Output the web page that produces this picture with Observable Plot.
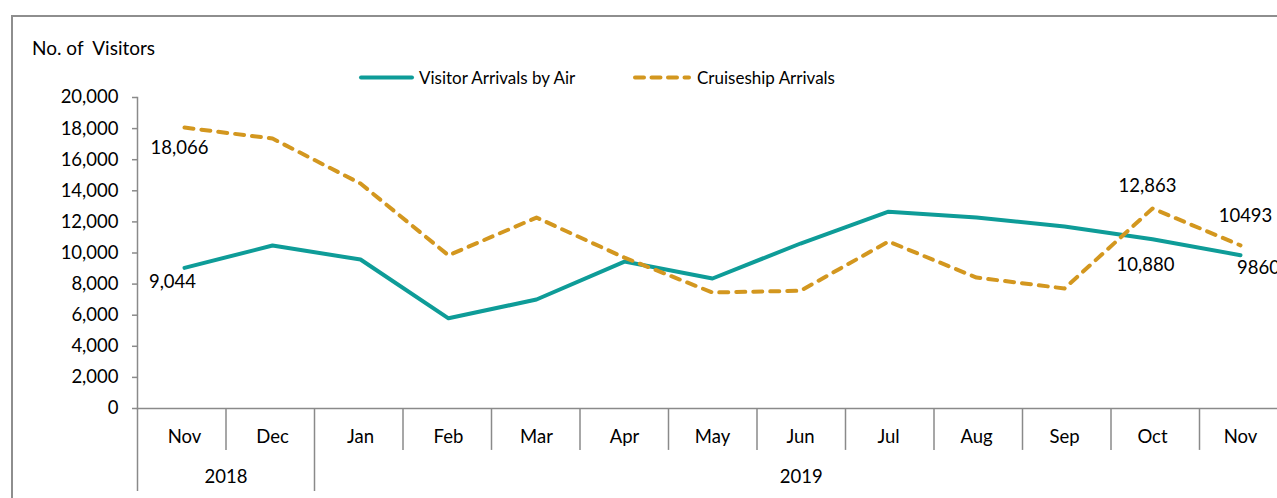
<!DOCTYPE html>
<html>
<head>
<meta charset="utf-8">
<script src="https://cdn.jsdelivr.net/npm/d3@7"></script>
<script src="https://cdn.jsdelivr.net/npm/@observablehq/plot@0.6"></script>
<style>
  html, body { margin: 0; padding: 0; background: #fff; }
  body { width: 1277px; height: 498px; overflow: hidden; position: relative; font-family: Lato, "Open Sans", sans-serif; }
  #frame { position: absolute; left: 11px; top: 15px; width: 1300px; height: 520px; border-left: 2px solid #8e8e8e; border-top: 2px solid #8e8e8e; }
  #ytitle { position: absolute; left: 32px; top: 36px; font-size: 19px; color: #000; white-space: pre; }
  #legend { position: absolute; left: 0; top: 0; }
  #chart { position: absolute; left: 0; top: 0; width: 1277px; height: 498px; }
  #chart svg { position: absolute; left: 0; top: 0; max-width: none !important; }
</style>
</head>
<body>
<div id="frame"></div>
<div id="chart"></div>
<div id="ytitle">No. of  Visitors</div>
<svg id="legend" width="1277" height="100">
  <line x1="361" x2="412" y1="77.5" y2="77.5" stroke="#0e9c98" stroke-width="4" stroke-linecap="round"/>
  <text x="419" y="83.5" font-size="17" font-family="Lato, 'Open Sans', sans-serif">Visitor Arrivals by Air</text>
  <line x1="635" x2="689" y1="77.5" y2="77.5" stroke="#d3971f" stroke-width="4" stroke-linecap="round" stroke-dasharray="9,7.5"/>
  <text x="697" y="83.5" font-size="17" font-family="Lato, 'Open Sans', sans-serif">Cruiseship Arrivals</text>
</svg>
<script>
const months = ["Nov", "Dec", "Jan", "Feb", "Mar", "Apr", "May", "Jun", "Jul", "Aug", "Sep", "Oct", "Nov"];
const years = ["2018", "2018", "2019", "2019", "2019", "2019", "2019", "2019", "2019", "2019", "2019", "2019", "2019"];
const airArrivals = [9044, 10480, 9580, 5800, 7010, 9450, 8360, 10610, 12660, 12280, 11700, 10880, 9860];
const cruiseArrivals = [18066, 17360, 14470, 9850, 12280, 9700, 7460, 7570, 10740, 8420, 7720, 12863, 10493];
const yTicks = [0, 2000, 4000, 6000, 8000, 10000, 12000, 14000, 16000, 18000, 20000];
const yearGroups = ["2018", "2019"];
const seriesNames = ["Visitor Arrivals by Air", "Cruiseship Arrivals"];

const keys = months.map((m, i) => m + " " + years[i]);
const air = keys.map((k, i) => ({key: k, value: airArrivals[i]}));
const cruise = keys.map((k, i) => ({key: k, value: cruiseArrivals[i]}));

const labels = [
  {row: cruise[0], text: "18,066", dx: -5, dy: 21},
  {row: air[0], text: "9,044", dx: -12, dy: 14},
  {row: cruise[11], text: "12,863", dx: -5, dy: -22},
  {row: air[11], text: "10,880", dx: -7, dy: 26},
  {row: cruise[12], text: "10493", dx: 5, dy: -29},
  {row: air[12], text: "9860", dx: 18, dy: 13}
];

const L = 137, R = 1287.5, T = 97, B = 408, BB = 491;
const W = 1277, H = 498;
const font = "Lato, 'Open Sans', sans-serif";
const grey = "#8a8a8a";
const fs = 18.5;

const chart = Plot.plot({
  width: W, height: H,
  marginLeft: L, marginTop: T, marginBottom: H - B, marginRight: 0,
  style: {fontFamily: font, fontSize: fs + "px", color: "#000", background: "transparent", overflow: "hidden"},
  x: {type: "band", domain: keys, range: [L, R], padding: 0, axis: null},
  y: {domain: [0, 20000], range: [B, T], axis: null},
  marks: [
    Plot.frame({anchor: "left", stroke: grey, strokeWidth: 1.5}),
    Plot.axisY(yTicks, {tickSize: 5, tickPadding: 14, stroke: grey, strokeWidth: 1.5, tickFormat: d3.format(","), fill: "#000", fontSize: fs, label: null}),
    Plot.frame({anchor: "bottom", stroke: grey, strokeWidth: 1.5}),
    Plot.line(air, {x: "key", y: "value", stroke: "#0e9c98", strokeWidth: 4, strokeLinejoin: "round", strokeLinecap: "round"}),
    Plot.line(cruise, {x: "key", y: "value", stroke: "#d3971f", strokeWidth: 4, strokeLinejoin: "round", strokeLinecap: "round", strokeDasharray: "9,8"}),
    ...labels.map(l => Plot.text([l.row], {x: "key", y: "value", text: () => l.text, dx: l.dx, dy: l.dy, fill: "#000", fontSize: fs}))
  ]
});

const axisPlot = Plot.plot({
  width: W, height: H,
  marginLeft: L, marginRight: 0, marginTop: B, marginBottom: H - BB,
  style: {fontFamily: font, fontSize: fs + "px", color: "#000", background: "transparent", overflow: "hidden"},
  x: {type: "band", domain: keys, range: [L, R], padding: 0, axis: null},
  y: {domain: [0, 2], range: [B, BB], axis: null},
  marks: [
    Plot.text(keys, {x: d => d, y: 0.7, text: d => d.split(" ")[0], fill: "#000", fontSize: fs})
  ]
});

const idx = Plot.plot({
  width: W, height: H,
  marginLeft: L, marginRight: 0, marginTop: B, marginBottom: H - BB,
  style: {fontFamily: font, fontSize: fs + "px", color: "#000", background: "transparent", overflow: "hidden"},
  x: {domain: [0, keys.length], range: [L, R], axis: null},
  y: {domain: [0, 2], range: [B, BB], axis: null},
  marks: [
    Plot.ruleX(d3.range(0, keys.length + 1), {x: d => d, y1: 0, y2: d => (d === 0 || d === 2) ? 2 : 1.01, stroke: grey, strokeWidth: 1.5}),
    Plot.text(yearGroups, {
      x: g => { const first = years.indexOf(g), last = years.lastIndexOf(g); return (first + last + 1) / 2; },
      y: 1.66, text: d => d, fill: "#000", fontSize: fs
    })
  ]
});

const holder = document.getElementById("chart");
holder.appendChild(chart);
holder.appendChild(axisPlot);
holder.appendChild(idx);
</script>
</body>
</html>
